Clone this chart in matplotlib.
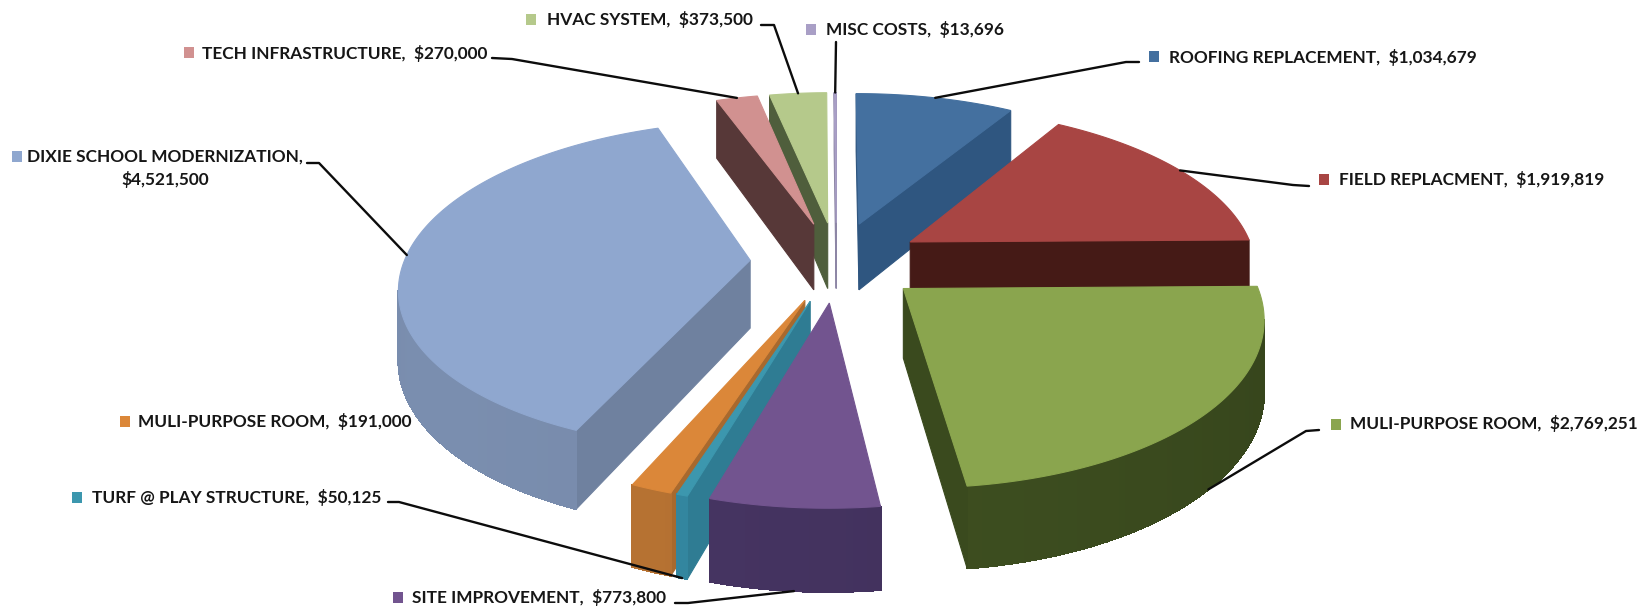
"""Exploded 3D pie of project budget, drawn with a small perspective projection."""
import matplotlib
matplotlib.use("Agg")
import matplotlib.pyplot as plt
import numpy as np
from matplotlib.colors import to_rgb
from matplotlib.patches import Polygon, Rectangle

categories = ["ROOFING REPLACEMENT", "FIELD REPLACMENT", "MULI-PURPOSE ROOM",
              "SITE IMPROVEMENT", "TURF @ PLAY STRUCTURE", "MULI-PURPOSE ROOM",
              "DIXIE SCHOOL MODERNIZATION", "TECH INFRASTRUCTURE", "HVAC SYSTEM",
              "MISC COSTS"]
values = [1034679, 1919819, 2769251, 773800, 50125, 191000, 4521500, 270000, 373500, 13696]

TOP_COLORS = ["#44709F", "#A84543", "#8AA54E", "#72548F", "#3C97AE",
              "#DB8739", "#8FA7CF", "#D19190", "#B5C98B", "#A99FC6"]
WALL_COLORS = ["#2F5680", "#451A16", "#3A4A1E", "#40305A", "#2F7C93",
               "#A8692E", "#6F819F", "#573838", "#4F5E3C", "#8D86A5"]

# projection of the pie plane, in output pixels
CX, CY = 836.5, 261.5
SCALE_X, SCALE_Y = 346, 160.5
PERSPECTIVE = 0.15
THICKNESS = 68
EXPLODE = 0.25

# label layout: text x, text y, marker x, elbow pixels, which height the leader ends at
LABEL_X = [1169, 1339, 1350, 412, 92, 138, 165, 202, 547, 826]
LABEL_Y = [57, 179, 424, 598, 497, 422, 168, 53, 20, 29]
MARKER_X = [1149, 1319, 1331, 393, 72, 120, 12, 184, 526, 806]
MARKER_Y = [56, 179, 424, 597, 497, 421, 156, 52, 19, 29]
ELBOWS = [[(1139, 62), (1126, 62)], [(1309, 186), (1293, 185)], [(1319, 430), (1306, 431)],
          [(675, 603), (688, 603)], [(388, 502), (399, 502)], None,
          [(307, 163), (319, 163)], [(492, 58), (512, 59)], [(761, 25), (774, 25)], [(836, 42)]]
LEADER_Z = [0, 0, 1, 1, 1, 0, 0, 0, 0, 0]


def project(u, v, z=0.0):
    w = 1 + PERSPECTIVE * v
    return CX + SCALE_X * u / w, CY - SCALE_Y * v / w + THICKNESS * z / w


def rim(theta, mid, radius=1.0):
    # theta runs clockwise from 12 o'clock, in radians
    u = EXPLODE * np.sin(mid) + radius * np.sin(theta)
    v = EXPLODE * np.cos(mid) + radius * np.cos(theta)
    return u, v


def signed_area(pts):
    x, y = pts[:, 0], pts[:, 1]
    return 0.5 * np.sum(x * np.roll(y, -1) - np.roll(x, -1) * y)


def shaded(color, factor):
    return tuple(min(1.0, c * factor) for c in to_rgb(color))


def add_face(ax, pts, color, smooth=True):
    ax.add_patch(Polygon(pts, closed=True, facecolor=color, edgecolor=color,
                         linewidth=0.8, antialiased=smooth))


def draw_slice(ax, t0, t1, top, wall):
    mid = (t0 + t1) / 2
    thetas = np.linspace(t0, t1, max(3, int(np.degrees(t1 - t0)) + 2))
    apex_u, apex_v = rim(mid, mid, 0.0)
    rim_u, rim_v = rim(thetas, mid)
    outline = [(apex_u, apex_v)] + list(zip(rim_u, rim_v))

    # walls, with back faces culled so the prism needs no depth sort of its own
    n = len(outline)
    for i in range(n):
        a = outline[i]
        b = outline[(i + 1) % n]
        quad = np.array([project(*a, 0), project(*b, 0), project(*b, 1), project(*a, 1)])
        if signed_area(quad) >= 0:
            continue
        if 1 <= i < n - 1:
            th = (thetas[i - 1] + thetas[i]) / 2
            color = shaded(wall, 1 + 0.1 * np.cos(th - np.radians(235)))
            # no smoothing here, it leaves stripes between neighbouring quads
            add_face(ax, quad, color, smooth=False)
            ax.plot(quad[2:, 0], quad[2:, 1], color=color, lw=1.0, solid_capstyle="round")
        else:
            add_face(ax, quad, wall)

    add_face(ax, np.array([project(u, v) for u, v in outline]), top)


def main():
    fig = plt.figure(figsize=(16.46, 6.11), dpi=100)
    ax = fig.add_axes([0, 0, 1, 1])
    ax.set_xlim(0, 1646)
    ax.set_ylim(611, 0)
    ax.set_axis_off()

    vals = np.array(values, dtype=float)
    edges = np.radians(np.concatenate([[0], np.cumsum(vals) / vals.sum() * 360]))
    mids = (edges[:-1] + edges[1:]) / 2

    # far slices first
    for i in np.argsort(-np.cos(mids)):
        draw_slice(ax, edges[i], edges[i + 1], TOP_COLORS[i], WALL_COLORS[i])

    font = dict(family=["Lato", "DejaVu Sans"], fontweight="bold",
                fontsize=12.4, color="#161616", va="center")
    for i, cat in enumerate(categories):
        if cat.startswith("DIXIE"):
            label = f"{cat},\n${values[i]:,}"
            ax.text(LABEL_X[i], LABEL_Y[i], label, ha="center", multialignment="center",
                    linespacing=1.45, **font)
        else:
            ax.text(LABEL_X[i], LABEL_Y[i], f"{cat},  ${values[i]:,}", ha="left", **font)
        ax.add_patch(Rectangle((MARKER_X[i], MARKER_Y[i] - 5), 10.5, 10.5,
                               facecolor=TOP_COLORS[i], edgecolor="none"))
        if ELBOWS[i] is None:
            continue
        end = project(*rim(mids[i], mids[i]), LEADER_Z[i])
        pts = np.array(ELBOWS[i] + [end])
        ax.plot(pts[:, 0], pts[:, 1], color="#0c0c0c", lw=1.7, solid_capstyle="round")

    fig.savefig("out.png", dpi=100, facecolor="white")


if __name__ == "__main__":
    main()
